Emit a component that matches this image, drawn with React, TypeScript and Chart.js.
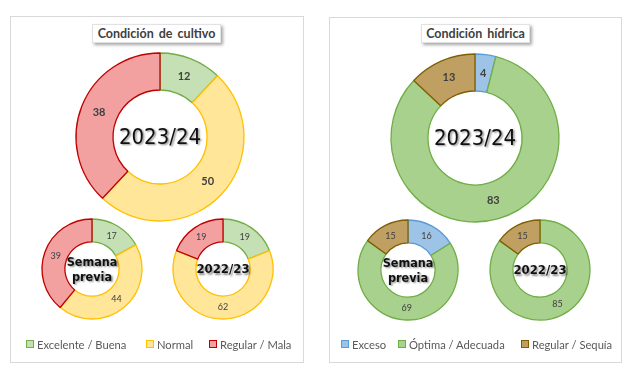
import React, { useEffect, useRef } from "react";
import { Chart, registerables } from "chart.js";
Chart.register(...registerables);

const cropCategories = ["Excelente / Buena", "Normal", "Regular / Mala"];
const crop2324 = [12, 50, 38];
const cropPrevWeek = [17, 44, 39];
const crop2223 = [19, 62, 19];

const waterCategories = ["Exceso", "Óptima / Adecuada", "Regular / Sequía"];
const water2324 = [4, 83, 13];
const waterPrevWeek = [16, 69, 15];
const water2223 = [0, 85, 15];

const cropFills = ["#C5E0B4", "#FFE699", "#F2A0A0"];
const cropBorders = ["#70AD47", "#FFC000", "#C00000"];
const waterFills = ["#9DC3E6", "#A9D18E", "#BF9F62"];
const waterBorders = ["#5B9BD5", "#70AD47", "#7F6000"];

const CENTER_FONT = '"DejaVu Sans Condensed", "DejaVu Sans", sans-serif';
const UI_FONT = 'Lato, "Open Sans", sans-serif';

type DonutProps = {
  values: number[];
  labels: string[];
  fills: string[];
  borders: string[];
  cx: number;
  cy: number;
  radius: number;
  cutout: number;
  centerLines: string[];
  centerFont: string;
  lineGap: number;
  labelFont: string;
};

function Donut(p: DonutProps) {
  const ref = useRef<HTMLCanvasElement>(null);
  const size = p.radius * 2 + 12;
  useEffect(() => {
    const labelPlugin = {
      id: "valueLabels",
      afterDatasetsDraw(chart: any) {
        const ctx = chart.ctx;
        const meta = chart.getDatasetMeta(0);
        ctx.save();
        ctx.font = p.labelFont;
        ctx.fillStyle = "#404040";
        ctx.textAlign = "center";
        ctx.textBaseline = "middle";
        meta.data.forEach((arc: any, i: number) => {
          const v = p.values[i];
          if (!v) return;
          const pt = arc.getCenterPoint();
          ctx.fillText(String(v), pt.x, pt.y);
        });
        ctx.restore();
      },
    };
    const centerPlugin = {
      id: "centerText",
      afterDatasetsDraw(chart: any) {
        const ctx = chart.ctx;
        const meta = chart.getDatasetMeta(0);
        const a = meta.data[0];
        const x = a.x;
        const y = a.y;
        ctx.save();
        ctx.font = p.centerFont;
        ctx.fillStyle = "#111111";
        ctx.textAlign = "center";
        ctx.textBaseline = "middle";
        ctx.shadowColor = "rgba(0,0,0,0.45)";
        ctx.shadowOffsetX = 1.5;
        ctx.shadowOffsetY = 1.5;
        ctx.shadowBlur = 2;
        const n = p.centerLines.length;
        p.centerLines.forEach((line, i) => {
          ctx.fillText(line, x, y + (i - (n - 1) / 2) * p.lineGap + 1);
        });
        ctx.restore();
      },
    };
    const chart = new Chart(ref.current!, {
      type: "doughnut",
      data: {
        labels: p.labels,
        datasets: [
          {
            data: p.values,
            backgroundColor: p.fills,
            borderColor: p.borders,
            borderWidth: p.values.map((v) => (v > 0 ? 1.3 : 0)),
          },
        ],
      },
      options: {
        responsive: false,
        animation: false,
        radius: p.radius,
        cutout: p.cutout,
        layout: { padding: 0 },
        plugins: { legend: { display: false }, tooltip: { enabled: false } },
      } as any,
      plugins: [labelPlugin, centerPlugin],
    });
    return () => chart.destroy();
  }, []);
  return (
    <canvas
      ref={ref}
      width={size}
      height={size}
      style={{ position: "absolute", left: p.cx - size / 2, top: p.cy - size / 2, width: size, height: size }}
    />
  );
}

function TitleBox({ text, left, width }: { text: string; left: number; width: number }) {
  return (
    <div
      style={{
        position: "absolute",
        left,
        top: 24,
        width,
        height: 19,
        background: "#FFFFFF",
        border: "1px solid #E2E2E2",
        boxShadow: "2px 2px 3px rgba(0,0,0,0.35)",
        boxSizing: "border-box",
        font: `bold 12.5px ${UI_FONT}`,
        color: "#404040",
        textAlign: "center",
        lineHeight: "17px",
        wordSpacing: "2px",
      }}
    >
      {text}
    </div>
  );
}

function LegendItem({ x, label, fill, border }: { x: number; label: string; fill: string; border: string }) {
  return (
    <div style={{ position: "absolute", left: x, top: 336, height: 16, display: "flex", alignItems: "center" }}>
      <div style={{ width: 8, height: 8, background: fill, border: `1px solid ${border}`, boxSizing: "border-box", marginRight: 3 }} />
      <span style={{ font: `11.2px ${UI_FONT}`, color: "#595959", whiteSpace: "nowrap" }}>{label}</span>
    </div>
  );
}

export default function App() {
  const bigLabel = `bold 11px ${UI_FONT}`;
  const smallLabel = `9px ${UI_FONT}`;
  const bigCenter = `22px ${CENTER_FONT}`;
  const smallCenter = `bold 12.5px ${CENTER_FONT}`;
  const yearCenter = `bold 13px ${CENTER_FONT}`;
  return (
    <div style={{ position: "absolute", left: 0, top: 0, width: 640, height: 372, background: "#FFFFFF", overflow: "hidden" }}>
      <div style={{ position: "absolute", left: 10, top: 16, width: 294, height: 347, border: "1px solid #D9D9D9", boxSizing: "border-box" }} />
      <div style={{ position: "absolute", left: 329, top: 17, width: 293, height: 346, border: "1px solid #D9D9D9", boxSizing: "border-box" }} />

      <TitleBox text="Condición de cultivo" left={92} width={129} />
      <TitleBox text="Condición hídrica" left={421} width={109} />

      <Donut values={crop2324} labels={cropCategories} fills={cropFills} borders={cropBorders}
        cx={160} cy={137} radius={84} cutout={50} centerLines={["2023/24"]} centerFont={bigCenter} lineGap={0} labelFont={bigLabel} />
      <Donut values={cropPrevWeek} labels={cropCategories} fills={cropFills} borders={cropBorders}
        cx={91.5} cy={268.5} radius={50} cutout={30} centerLines={["Semana", "previa"]} centerFont={smallCenter} lineGap={15} labelFont={smallLabel} />
      <Donut values={crop2223} labels={cropCategories} fills={cropFills} borders={cropBorders}
        cx={223} cy={268.5} radius={50} cutout={30} centerLines={["2022/23"]} centerFont={yearCenter} lineGap={0} labelFont={smallLabel} />

      <Donut values={water2324} labels={waterCategories} fills={waterFills} borders={waterBorders}
        cx={475} cy={138} radius={84} cutout={50} centerLines={["2023/24"]} centerFont={bigCenter} lineGap={0} labelFont={bigLabel} />
      <Donut values={waterPrevWeek} labels={waterCategories} fills={waterFills} borders={waterBorders}
        cx={408} cy={269.5} radius={50} cutout={30} centerLines={["Semana", "previa"]} centerFont={smallCenter} lineGap={15} labelFont={smallLabel} />
      <Donut values={water2223} labels={waterCategories} fills={waterFills} borders={waterBorders}
        cx={540} cy={269.5} radius={50} cutout={30} centerLines={["2022/23"]} centerFont={yearCenter} lineGap={0} labelFont={smallLabel} />

      <LegendItem x={26} label={cropCategories[0]} fill={cropFills[0]} border={cropBorders[0]} />
      <LegendItem x={146} label={cropCategories[1]} fill={cropFills[1]} border={cropBorders[1]} />
      <LegendItem x={209} label={cropCategories[2]} fill={cropFills[2]} border={cropBorders[2]} />

      <LegendItem x={341} label={waterCategories[0]} fill={waterFills[0]} border={waterBorders[0]} />
      <LegendItem x={398} label={waterCategories[1]} fill={waterFills[1]} border={waterBorders[1]} />
      <LegendItem x={521} label={waterCategories[2]} fill={waterFills[2]} border={waterBorders[2]} />
    </div>
  );
}
